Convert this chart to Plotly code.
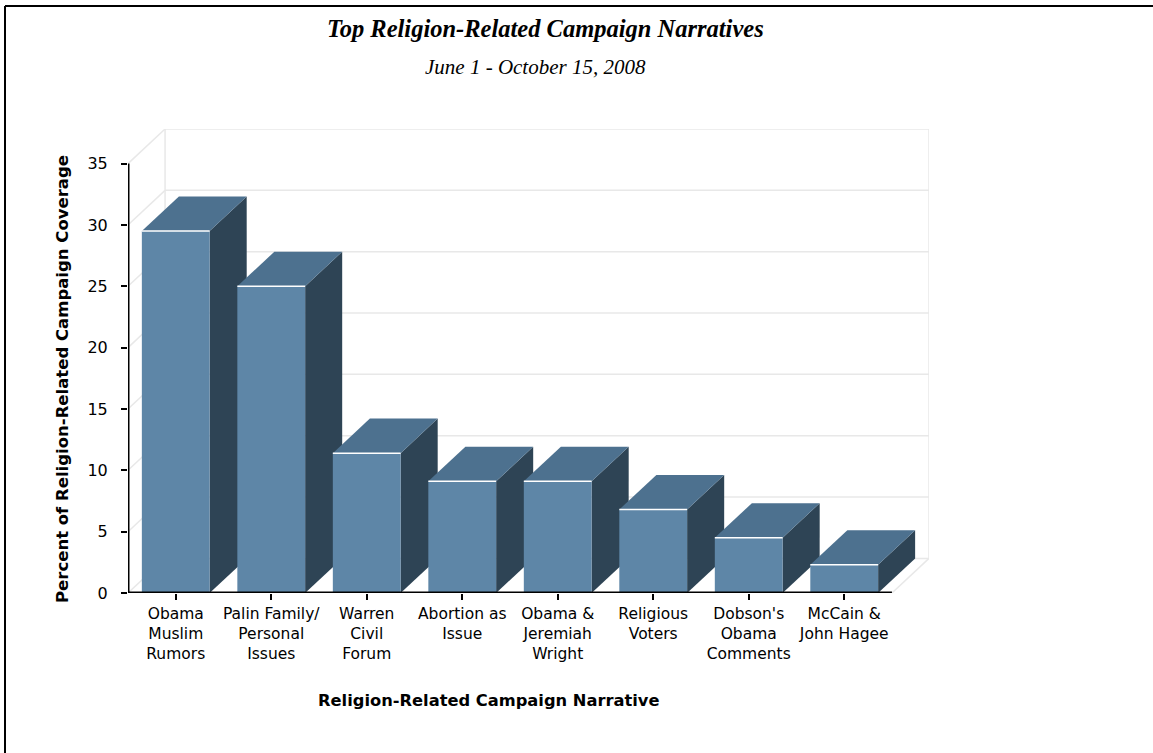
import plotly.graph_objects as go

# ---------------- data ----------------
categories = [
    "Obama<br>Muslim<br>Rumors",
    "Palin Family/<br>Personal<br>Issues",
    "Warren<br>Civil<br>Forum",
    "Abortion as<br>Issue",
    "Obama &<br>Jeremiah<br>Wright",
    "Religious<br>Voters",
    "Dobson's<br>Obama<br>Comments",
    "McCain &<br>John Hagee",
]
values = [29.5, 25.0, 11.4, 9.1, 9.1, 6.8, 4.5, 2.3]
y_ticks = [0, 5, 10, 15, 20, 25, 30, 35]

title_text = "Top Religion-Related Campaign Narratives"
subtitle_text = "June 1 - October 15, 2008"
y_title = "Percent of Religion-Related Campaign Coverage"
x_title = "Religion-Related Campaign Narrative"

# ---------------- geometry / style ----------------
W, H = 1153, 753
PL, PR, PT, PB = 128, 929, 129, 593       # plot area in pixels
DX, DY = 0.388, 2.82                      # 3D depth offset (axis units)
BW = 0.71                                 # bar width (category units)
YMAX = y_ticks[-1]
n = len(values)
XMIN, XMAX = -0.5, n - 0.5 + DX

FRONT = "#5E86A7"
TOP = "#4D718F"
SIDE = "#2E4455"
GRID = "#E8E8E8"
SANS = "DejaVu Sans, Liberation Sans, Arial, sans-serif"
SERIF = "Liberation Serif, Times New Roman, serif"


def px2x(px):
    return (px - PL) / (PR - PL)


def py2y(py):
    return (PB - py) / (PB - PT)


fig = go.Figure()

# ---------------- walls / gridlines ----------------
gx, gy = [], []
for v in y_ticks:
    gx += [XMIN + DX, n - 0.5 + DX, None]
    gy += [v + DY, v + DY, None]
    gx += [XMIN, XMIN + DX, None]
    gy += [v, v + DY, None]
gx += [XMIN + DX, XMIN + DX, None, n - 0.5 + DX, n - 0.5 + DX, None]
gy += [DY, YMAX + DY, None, DY, YMAX + DY, None]
gx += [n - 0.5, n - 0.5 + DX, None]
gy += [0, DY, None]
fig.add_trace(go.Scatter(x=gx, y=gy, mode="lines", line=dict(color=GRID, width=1.5),
                         hoverinfo="skip", cliponaxis=False, showlegend=False))

# ---------------- 3D bars ----------------
for i, v in enumerate(values):
    x0, x1 = i - BW / 2, i + BW / 2
    fig.add_trace(go.Scatter(
        x=[x1, x1 + DX, x1 + DX, x1, x1], y=[0, DY, v + DY, v, 0],
        mode="lines", fill="toself", fillcolor=SIDE, line=dict(width=0, color=SIDE),
        hoverinfo="skip", cliponaxis=False, showlegend=False))
    fig.add_trace(go.Scatter(
        x=[x0, x1, x1 + DX, x0 + DX, x0], y=[v, v, v + DY, v + DY, v],
        mode="lines", fill="toself", fillcolor=TOP, line=dict(width=0, color=TOP),
        hoverinfo="skip", cliponaxis=False, showlegend=False))
    fig.add_trace(go.Scatter(
        x=[x0, x1, x1, x0, x0], y=[0, 0, v, v, 0],
        mode="lines", fill="toself", fillcolor=FRONT, line=dict(width=0, color=FRONT),
        hoverinfo="skip", cliponaxis=False, showlegend=False))
    fig.add_trace(go.Scatter(
        x=[x0, x1], y=[v, v], mode="lines", line=dict(color="white", width=1.5),
        hoverinfo="skip", cliponaxis=False, showlegend=False))

# ---------------- axes ----------------
fig.update_xaxes(
    range=[XMIN, XMAX], tickmode="array", tickvals=list(range(n)), ticktext=categories,
    showgrid=False, zeroline=False, showline=False,
    ticks="outside", ticklen=6, tickwidth=2, tickcolor="black",
    tickfont=dict(family=SANS, size=15.5, color="black"), tickangle=0,
)
fig.update_yaxes(
    range=[0, YMAX + DY], tickmode="array", tickvals=y_ticks,
    showgrid=False, zeroline=False, showline=False,
    ticks="outside", ticklen=6, tickwidth=2, tickcolor="black",
    tickfont=dict(family=SANS, size=16, color="black"), ticklabelstandoff=10,
)

shapes = [
    dict(type="line", xref="x", yref="y", x0=XMIN, y0=0, x1=XMIN, y1=YMAX,
         line=dict(color="black", width=3), layer="above"),
    dict(type="line", xref="x", yref="y", x0=XMIN, y0=0, x1=n - 0.5, y1=0,
         line=dict(color="black", width=3), layer="above"),
    dict(type="line", xref="paper", yref="paper", x0=px2x(5), y0=py2y(6), x1=px2x(W), y1=py2y(6),
         line=dict(color="black", width=2), layer="above"),
    dict(type="line", xref="paper", yref="paper", x0=px2x(5), y0=py2y(6), x1=px2x(5), y1=py2y(H),
         line=dict(color="black", width=2), layer="above"),
]

annotations = [
    dict(text="<b><i>" + title_text + "</i></b>", xref="paper", yref="paper",
         x=px2x(545), y=py2y(28), showarrow=False, xanchor="center", yanchor="middle",
         font=dict(family=SERIF, size=24.5, color="black")),
    dict(text="<i>" + subtitle_text + "</i>", xref="paper", yref="paper",
         x=px2x(535), y=py2y(67), showarrow=False, xanchor="center", yanchor="middle",
         font=dict(family=SERIF, size=21, color="black")),
    dict(text="<b>" + y_title + "</b>", xref="paper", yref="paper",
         x=px2x(62), y=py2y(379), showarrow=False, xanchor="center", yanchor="middle",
         textangle=-90, font=dict(family=SANS, size=16.5, color="black")),
    dict(text="<b>" + x_title + "</b>", xref="paper", yref="paper",
         x=px2x(489), y=py2y(700), showarrow=False, xanchor="center", yanchor="middle",
         font=dict(family=SANS, size=16.3, color="black")),
]

fig.update_layout(
    width=W, height=H,
    margin=dict(l=PL, r=W - PR, t=PT, b=H - PB, pad=0),
    paper_bgcolor="white", plot_bgcolor="white",
    showlegend=False, hovermode=False,
    shapes=shapes, annotations=annotations,
)

fig.write_html("out.html", config={"displayModeBar": False},
               post_script="document.body.style.margin='0px';")
